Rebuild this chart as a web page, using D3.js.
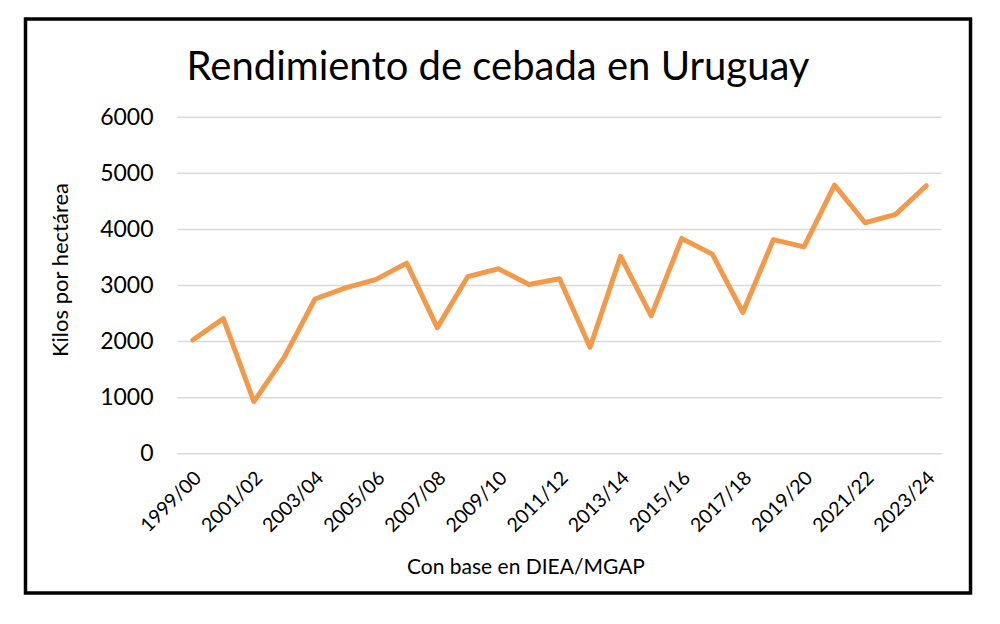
<!DOCTYPE html>
<html>
<head>
<meta charset="utf-8">
<script src="https://cdn.jsdelivr.net/npm/d3@7"></script>
<style>
  body { margin: 0; background: #fff; }
  svg { display: block; }
</style>
</head>
<body>
<svg id="chart"></svg>
<script>
const seasons = ["1999/00", "2000/01", "2001/02", "2002/03", "2003/04", "2004/05", "2005/06",
    "2006/07", "2007/08", "2008/09", "2009/10", "2010/11", "2011/12", "2012/13", "2013/14",
    "2014/15", "2015/16", "2016/17", "2017/18", "2018/19", "2019/20", "2020/21", "2021/22",
    "2022/23", "2023/24"]
const yields = [2020, 2400, 920, 1720, 2750, 2950, 3100, 3390, 2240, 3150, 3290, 3010, 3110,
    1890, 3510, 2450, 3830, 3550, 2510, 3810, 3680, 4780, 4110, 4260, 4770]
const yTicks = [0, 1000, 2000, 3000, 4000, 5000, 6000]

const width = 1000
const height = 624
const font = "Lato, 'Open Sans', sans-serif"
const margin = ({top: 116.7, right: 58.5, bottom: 170.7, left: 177.5})

const svg = d3.select("#chart")
    .attr("width", width)
    .attr("height", height)
    .attr("viewBox", [0, 0, width, height])

const x = d3.scaleBand()
    .domain(seasons)
    .range([margin.left, width - margin.right])
    .padding(0)

const y = d3.scaleLinear()
    .domain([0, 6000])
    .range([height - margin.bottom, margin.top])

const cx = d => x(d) + x.bandwidth() / 2

// outer frame
svg.append("rect")
    .attr("x", 25.5)
    .attr("y", 19)
    .attr("width", 945)
    .attr("height", 574)
    .attr("fill", "none")
    .attr("stroke", "#000")
    .attr("stroke-width", 3.5)

// gridlines + y labels
const yAxis = g => g
    .attr("transform", `translate(${margin.left},0)`)
    .call(d3.axisLeft(y).tickValues(yTicks).tickFormat(d3.format("d"))
        .tickSize(-(width - margin.left - margin.right)).tickPadding(24))
    .call(g => g.select(".domain").remove())
    .call(g => g.selectAll(".tick line").attr("stroke", "#d9d9d9").attr("stroke-width", 1.5))
    .call(g => g.selectAll(".tick text")
        .attr("font-family", font)
        .attr("font-size", 23)
        .attr("fill", "#000"))

svg.append("g").call(yAxis)

// x labels, every other season, rotated
svg.append("g")
    .attr("font-family", font)
    .attr("font-size", 19.5)
    .attr("text-anchor", "end")
    .selectAll("text")
    .data(seasons.filter((d, i) => i % 2 === 0))
    .join("text")
    .attr("transform", d => `translate(${cx(d) + 5},${height - margin.bottom + 21}) rotate(-45)`)
    .attr("dy", "0.35em")
    .text(d => d)

// line
const line = d3.line()
    .x((d, i) => cx(seasons[i]))
    .y(d => y(d))

svg.append("path")
    .datum(yields)
    .attr("fill", "none")
    .attr("stroke", "#F3994A")
    .attr("stroke-width", 5)
    .attr("stroke-linejoin", "round")
    .attr("stroke-linecap", "round")
    .attr("d", line)

// titles
svg.append("text")
    .attr("x", 498)
    .attr("y", 80)
    .attr("text-anchor", "middle")
    .attr("font-family", font)
    .attr("font-size", 40)
    .text("Rendimiento de cebada en Uruguay")

svg.append("text")
    .attr("transform", `translate(68,270) rotate(-90)`)
    .attr("text-anchor", "middle")
    .attr("font-family", font)
    .attr("font-size", 22)
    .text("Kilos por hectárea")

svg.append("text")
    .attr("x", 526)
    .attr("y", 574)
    .attr("text-anchor", "middle")
    .attr("font-family", font)
    .attr("font-size", 21)
    .text("Con base en DIEA/MGAP")
</script>
</body>
</html>
